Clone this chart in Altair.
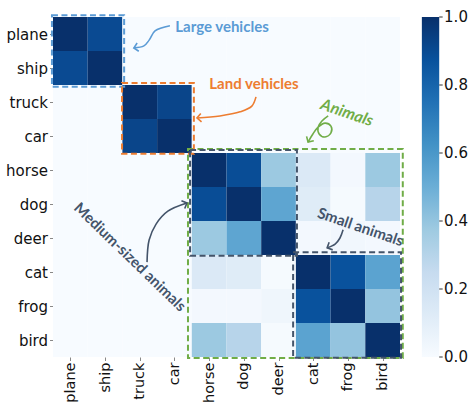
import math
import altair as alt
import pandas as pd

# ---------------- data ----------------
labels = ["plane", "ship", "truck", "car", "horse", "dog", "deer", "cat", "frog", "bird"]

row_plane = [1.00, 0.90, 0.00, 0.00, 0.00, 0.00, 0.00, 0.00, 0.00, 0.00]
row_ship  = [0.90, 1.00, 0.00, 0.00, 0.00, 0.00, 0.00, 0.00, 0.00, 0.00]
row_truck = [0.00, 0.00, 1.00, 0.92, 0.00, 0.00, 0.00, 0.00, 0.00, 0.00]
row_car   = [0.00, 0.00, 0.92, 1.00, 0.00, 0.00, 0.00, 0.00, 0.00, 0.00]
row_horse = [0.00, 0.00, 0.00, 0.00, 1.00, 0.89, 0.38, 0.14, 0.02, 0.38]
row_dog   = [0.00, 0.00, 0.00, 0.00, 0.89, 1.00, 0.54, 0.12, 0.01, 0.30]
row_deer  = [0.00, 0.00, 0.00, 0.00, 0.38, 0.54, 1.00, 0.02, 0.03, 0.02]
row_cat   = [0.00, 0.00, 0.00, 0.00, 0.14, 0.12, 0.01, 1.00, 0.87, 0.55]
row_frog  = [0.00, 0.00, 0.00, 0.00, 0.02, 0.02, 0.04, 0.87, 1.00, 0.40]
row_bird  = [0.00, 0.00, 0.00, 0.00, 0.38, 0.30, 0.01, 0.55, 0.40, 1.00]
matrix = [row_plane, row_ship, row_truck, row_car, row_horse,
          row_dog, row_deer, row_cat, row_frog, row_bird]

colorbar_ticks = [0.0, 0.2, 0.4, 0.6, 0.8, 1.0]

# annotation boxes (in cell units)
box_names = ["Animals", "Large vehicles", "Land vehicles", "Medium", "Small"]
box_x0 = [3.89, -0.03, 1.99, 3.95, 6.92]
box_x1 = [10.08, 2.05, 4.06, 7.03, 10.03]
box_y0 = [3.88, -0.05, 1.94, 3.91, 6.92]
box_y1 = [10.03, 2.05, 4.02, 7.02, 10.02]
box_colors = ["#70ad47", "#5b9bd5", "#ed7d31", "#44546a", "#44546a"]

# annotation texts (in cell units)
text_labels = ["Large vehicles", "Land vehicles", "Animals", "Small animals", "Medium-sized animals"]
text_x = [4.87, 5.79, 8.47, 8.86, 2.22]
text_y = [0.29, 1.97, 2.82, 6.18, 7.06]
text_angle = [0, 0, 19, 19, 44]
text_size = [15, 15, 16, 15, 15]
text_colors = ["#5b9bd5", "#ed7d31", "#70ad47", "#44546a", "#44546a"]
text_italic = [False, False, True, False, False]

# annotation arrows (in cell units)
arrow_colors = ["#5b9bd5", "#ed7d31", "#70ad47", "#44546a", "#44546a"]
arrow_x = [
    [3.37, 2.94, 2.77, 2.62, 2.33],
    [5.85, 5.73, 5.39, 4.81, 4.15],
    [7.93, 7.75, 7.64, 7.67, 7.84, 8.01, 8.01, 7.84, 7.64, 7.49, 7.35],
    [8.36, 8.27, 8.13, 7.90],
    [2.71, 2.77, 2.97, 3.31, 3.86],
]
arrow_y = [
    [0.26, 0.41, 0.68, 0.85, 0.91],
    [2.35, 2.62, 2.79, 2.91, 2.97],
    [2.91, 3.06, 3.24, 3.44, 3.53, 3.41, 3.21, 3.12, 3.24, 3.44, 3.68],
    [6.26, 6.50, 6.68, 6.79],
    [7.21, 6.56, 6.09, 5.71, 5.47],
]

# ---------------- tables ----------------
cells = []
for i, row in enumerate(matrix):
    for j, v in enumerate(row):
        cells.append({"row": labels[i], "col": labels[j], "x0": j, "x1": j + 1,
                      "y0": i, "y1": i + 1, "value": v})
cells = pd.DataFrame(cells)

boxes = pd.DataFrame({"name": box_names, "x0": box_x0, "x1": box_x1,
                      "y0": box_y0, "y1": box_y1, "color": box_colors})

line_rows, head_rows = [], []
for a, (xs_, ys_, c) in enumerate(zip(arrow_x, arrow_y, arrow_colors)):
    for k, (xx, yy) in enumerate(zip(xs_, ys_)):
        line_rows.append({"arrow": a, "k": k, "x": xx, "y": yy, "color": c})
    dx = (xs_[-1] - xs_[-2]) * 34.7
    dy = (ys_[-1] - ys_[-2]) * 34.0
    ang = math.degrees(math.atan2(dy, dx)) % 360
    head_rows.append({"arrow": a, "x": xs_[-1], "y": ys_[-1], "angle": ang, "color": c})
lines_df = pd.DataFrame(line_rows)
heads_df = pd.DataFrame(head_rows)

cbar_df = pd.DataFrame({"v": colorbar_ticks})
cbar_box = pd.DataFrame({"x0": [10.63], "x1": [11.13], "y0": [0.0], "y1": [10.0]})

# ---------------- scales ----------------
blues = ["#f7fbff", "#deebf7", "#c6dbef", "#9ecae1", "#6baed6",
         "#4292c6", "#2171b5", "#08519c", "#08306b"]
blue_domain = [k / 8 for k in range(9)]

label_arr = "[" + ",".join("'" + l + "'" for l in labels) + "]"
label_expr = label_arr + "[floor(datum.value)]"
tick_vals = [k + 0.5 for k in range(10)]

xs = alt.Scale(domain=[0, 10], nice=False, zero=False)
ys = alt.Scale(domain=[0, 10], nice=False, zero=False, reverse=True)

axis_common = dict(values=tick_vals, tickCount=20, labelExpr=label_expr, grid=False,
                   domain=False, tickSize=3.5, tickColor="#888",
                   labelOverlap=False, labelFont="DejaVu Sans",
                   labelColor="#111", title=None)
x_axis = alt.Axis(labelAngle=270, labelFontSize=14.5, labelPadding=1.5, **axis_common)
y_axis = alt.Axis(labelFontSize=15, labelPadding=2, **axis_common)

heat = alt.Chart(cells).mark_rect(stroke=None).encode(
    x=alt.X("x0:Q", scale=xs, axis=x_axis),
    x2="x1:Q",
    y=alt.Y("y0:Q", scale=ys, axis=y_axis),
    y2="y1:Q",
    color=alt.Color("value:Q",
                    scale=alt.Scale(domain=blue_domain, range=blues, type="linear"),
                    legend=None),
)

# colorbar drawn as a gradient rect with ticks and labels on the same y scale
grad = alt.LinearGradient(
    gradient="linear", x1=0, x2=0, y1=1, y2=0,
    stops=[alt.GradientStop(color=c, offset=o) for c, o in zip(blues, blue_domain)],
)
cbar_rect = alt.Chart(cbar_box).mark_rect(color=grad).encode(
    x=alt.X("x0:Q", scale=xs), x2="x1:Q",
    y=alt.Y("y0:Q", scale=ys), y2="y1:Q",
)
cbar_ticks = alt.Chart(cbar_df).transform_calculate(
    yy="(1 - datum.v) * 10", xa="11.13", xb="11.23"
).mark_rule(color="#333", strokeWidth=1).encode(
    x=alt.X("xa:Q", scale=xs), x2="xb:Q", y=alt.Y("yy:Q", scale=ys),
)
cbar_labels = alt.Chart(cbar_df).transform_calculate(
    yy="(1 - datum.v) * 10", xt="11.27", lab="format(datum.v, '.1f')"
).mark_text(align="left", baseline="middle", font="DejaVu Sans", fontSize=15,
            color="#111").encode(
    x=alt.X("xt:Q", scale=xs), y=alt.Y("yy:Q", scale=ys), text="lab:N",
)

box_layer = alt.Chart(boxes).mark_rect(filled=False, strokeWidth=2, strokeDash=[6, 3.5]).encode(
    x=alt.X("x0:Q", scale=xs), x2="x1:Q",
    y=alt.Y("y0:Q", scale=ys), y2="y1:Q",
    stroke=alt.Stroke("color:N", scale=None),
)

line_layer = alt.Chart(lines_df).mark_line(interpolate="catmull-rom", strokeWidth=1.6).encode(
    x=alt.X("x:Q", scale=xs), y=alt.Y("y:Q", scale=ys),
    detail="arrow:N", order="k:Q",
    stroke=alt.Stroke("color:N", scale=None),
)

head_layer = alt.Chart(heads_df).mark_point(
    shape="M-1,-1L0,0L-1,1", filled=False, size=70, strokeWidth=1.6, opacity=1
).encode(
    x=alt.X("x:Q", scale=xs), y=alt.Y("y:Q", scale=ys),
    angle=alt.Angle("angle:Q", scale=None),
    stroke=alt.Stroke("color:N", scale=None),
)

text_layers = []
for lab, tx, ty, ta, tsz, tc, it in zip(text_labels, text_x, text_y, text_angle,
                                        text_size, text_colors, text_italic):
    df = pd.DataFrame({"label": [lab], "x": [tx], "y": [ty]})
    kw = dict(font="Lato", fontWeight="bold", fontSize=tsz, color=tc, angle=ta,
              align="center", baseline="middle")
    if it:
        kw["fontStyle"] = "italic"
    text_layers.append(
        alt.Chart(df).mark_text(**kw).encode(
            x=alt.X("x:Q", scale=xs), y=alt.Y("y:Q", scale=ys), text="label:N")
    )

chart = alt.layer(heat, cbar_rect, cbar_ticks, cbar_labels, box_layer, line_layer,
                  head_layer, *text_layers).properties(
    width=347, height=340,
    padding={"left": 53, "top": 17, "right": 69, "bottom": 45},
    autosize=alt.AutoSizeParams(type="none"),
    background="white",
).configure_view(stroke=None)

chart.save("out.html", embed_options={"renderer": "svg", "actions": False})
